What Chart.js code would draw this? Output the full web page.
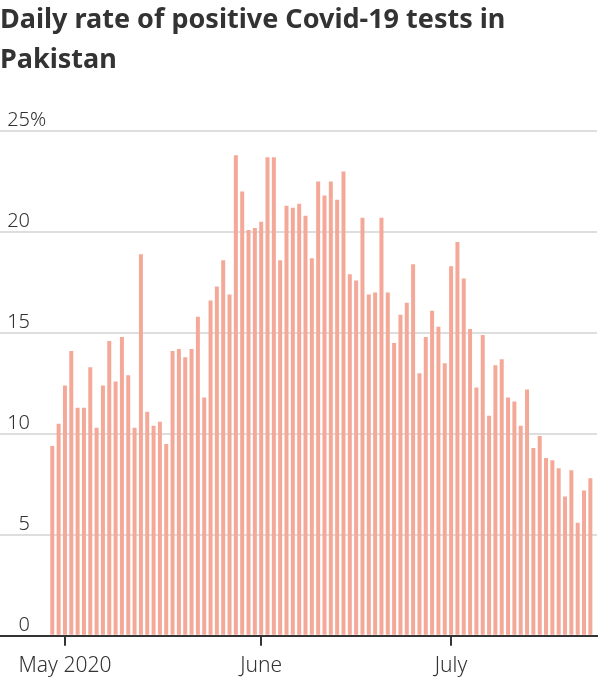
<!DOCTYPE html>
<html>
<head>
<meta charset="utf-8">
<script src="https://cdn.jsdelivr.net/npm/chart.js@4"></script>
<style>
  html, body { margin: 0; padding: 0; background: #fff; }
  #wrap { width: 600px; height: 700px; position: relative; }
</style>
</head>
<body>
<div id="wrap"><canvas id="positivityChart"></canvas></div>
<script>
// daily positivity rate, Apr 29 -> Jul 23 2020 (one value per day)
const positiveRate = [
  9.4, 10.5, 12.4, 14.1, 11.3, 11.3, 13.3, 10.3, 12.4, 14.6,
  12.6, 14.8, 12.9, 10.3, 18.9, 11.1, 10.4, 10.6, 9.5, 14.1,
  14.2, 13.8, 14.2, 15.8, 11.8, 16.6, 17.3, 18.6, 16.9, 23.8,
  22.0, 20.1, 20.2, 20.5, 23.7, 23.7, 18.6, 21.3, 21.2, 21.4,
  20.8, 18.7, 22.5, 21.8, 22.5, 21.6, 23.0, 17.9, 17.6, 20.7,
  16.9, 17.0, 20.7, 17.0, 14.5, 15.9, 16.5, 18.4, 13.0, 14.8,
  16.1, 15.3, 13.5, 18.3, 19.5, 17.7, 15.2, 12.3, 14.9, 10.9,
  13.4, 13.7, 11.8, 11.6, 10.4, 12.2, 9.3, 9.9, 8.8, 8.7,
  8.3, 6.9, 8.2, 5.6, 7.2, 7.8
];

// x positions are day numbers counted from Apr 29
const monthTickDays = [2, 33, 63];
const monthTickLabels = ['May 2020', 'June', 'July'];
const yTickValues = [0, 5, 10, 15, 20, 25];

const barColor = '#f4a898';
const textColor = '#333333';

// y labels sit on top of the grid lines, numbers right aligned, "%" hangs on the top one
const yLabelPlugin = {
    id: 'yLabels',
    afterDraw(chart) {
        const ctx = chart.ctx;
        const yScale = chart.scales.y;
        ctx.save();
        ctx.font = '300 20px "Noto Sans", sans-serif';
        ctx.fillStyle = textColor;
        ctx.textBaseline = 'alphabetic';
        yTickValues.forEach(v => {
            const y = yScale.getPixelForValue(v) - 5;
            ctx.textAlign = 'right';
            ctx.fillText(String(v), 30, y);
            if (v === 25) {
                ctx.textAlign = 'left';
                ctx.fillText('%', 30, y);
            }
        });
        ctx.restore();
    }
};

const ctx = document.getElementById('positivityChart').getContext('2d');
new Chart(ctx, {
    type: 'bar',
    data: {
        datasets: [{
            data: positiveRate.map((v, i) => ({ x: i, y: v })),
            backgroundColor: barColor,
            borderWidth: 0,
            barPercentage: 0.63,
            categoryPercentage: 1
        }]
    },
    options: {
        responsive: true,
        maintainAspectRatio: false,
        animation: false,
        layout: { padding: { left: 0, right: 3, top: 0, bottom: 13 } },
        plugins: {
            legend: { display: false },
            tooltip: { enabled: false },
            title: {
                display: true,
                text: ['Daily rate of positive Covid-19 tests in', 'Pakistan'],
                align: 'start',
                color: textColor,
                font: { family: '"Noto Sans", sans-serif', size: 27, weight: 'bold', lineHeight: 1.5 },
                padding: { top: 0, bottom: 50 }
            }
        },
        scales: {
            x: {
                type: 'linear',
                offset: false,
                min: -8.26,
                max: 86.05,
                afterBuildTicks(scale) {
                    scale.ticks = monthTickDays.map(d => ({ value: d }));
                },
                ticks: {
                    color: textColor,
                    font: { family: '"Noto Sans", sans-serif', size: 21, weight: 300 },
                    padding: 8,
                    maxRotation: 0,
                    autoSkip: false,
                    callback: (val) => monthTickLabels[monthTickDays.indexOf(val)]
                },
                grid: {
                    offset: false,
                    drawOnChartArea: false,
                    drawTicks: true,
                    tickLength: 10,
                    color: textColor,
                    lineWidth: 2
                },
                border: { display: true, color: textColor, width: 2 }
            },
            y: {
                min: 0,
                max: 25,
                afterFit(scale) { scale.width = 0; },
                ticks: { display: false, stepSize: 5 },
                grid: { color: '#dedede', lineWidth: 2, drawTicks: false },
                border: { display: false }
            }
        }
    },
    plugins: [yLabelPlugin]
});
</script>
</body>
</html>
